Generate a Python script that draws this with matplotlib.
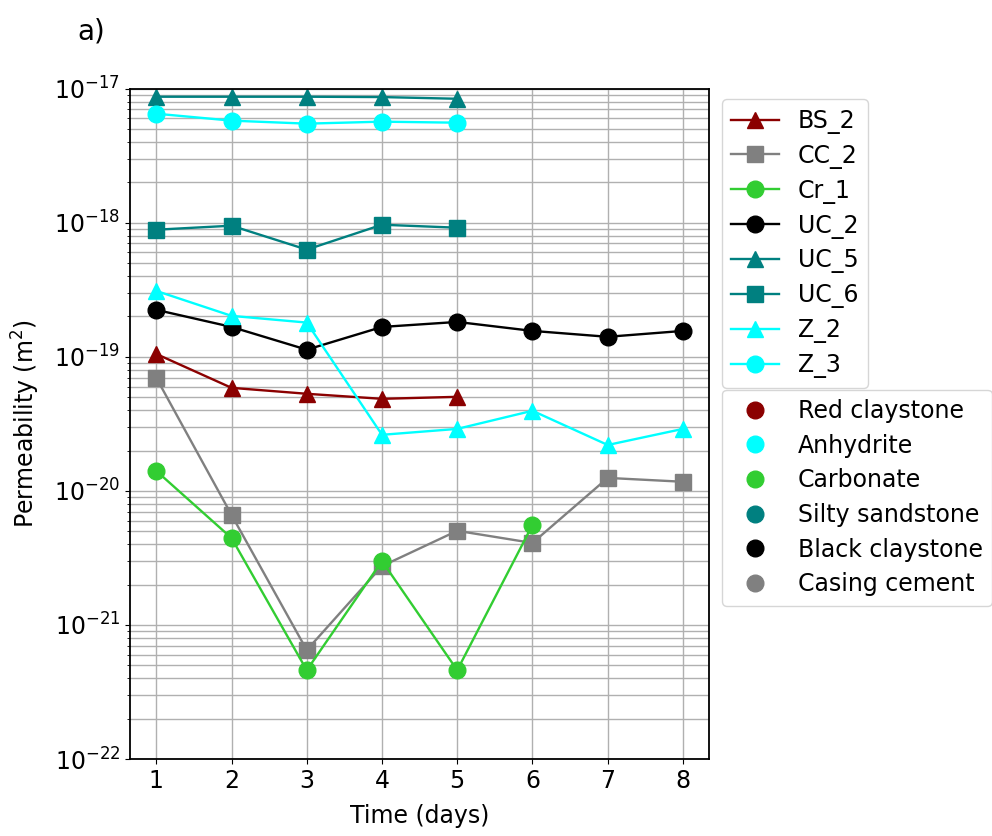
import matplotlib
matplotlib.use("Agg")
import matplotlib.pyplot as plt
from matplotlib.lines import Line2D
from matplotlib.ticker import NullFormatter

days = [1, 2, 3, 4, 5, 6, 7, 8]

BS_2 = [1.05e-19, 5.87e-20, 5.3e-20, 4.86e-20, 5.03e-20]
CC_2 = [6.97e-20, 6.62e-21, 6.5e-22, 2.75e-21, 5.04e-21, 4.09e-21, 1.25e-20, 1.17e-20]
Cr_1 = [1.41e-20, 4.45e-21, 4.6e-22, 3.0e-21, 4.6e-22, 5.57e-21]
UC_2 = [2.24e-19, 1.67e-19, 1.13e-19, 1.67e-19, 1.82e-19, 1.56e-19, 1.41e-19, 1.56e-19]
UC_5 = [8.7e-18, 8.7e-18, 8.7e-18, 8.65e-18, 8.4e-18]
UC_6 = [8.87e-19, 9.5e-19, 6.3e-19, 9.66e-19, 9.18e-19]
Z_2 = [3.1e-19, 2.02e-19, 1.8e-19, 2.62e-20, 2.9e-20, 3.96e-20, 2.2e-20, 2.9e-20]
Z_3 = [6.5e-18, 5.77e-18, 5.48e-18, 5.67e-18, 5.57e-18]

series = [
    ("BS_2", BS_2, "darkred", "^"),
    ("CC_2", CC_2, "gray", "s"),
    ("Cr_1", Cr_1, "limegreen", "o"),
    ("UC_2", UC_2, "black", "o"),
    ("UC_5", UC_5, "teal", "^"),
    ("UC_6", UC_6, "teal", "s"),
    ("Z_2", Z_2, "cyan", "^"),
    ("Z_3", Z_3, "cyan", "o"),
]

rock_types = ["Red claystone", "Anhydrite", "Carbonate", "Silty sandstone",
              "Black claystone", "Casing cement"]
rock_colors = ["darkred", "cyan", "limegreen", "teal", "black", "gray"]

plt.rcParams['font.family'] = ['DejaVu Sans']
plt.rcParams['font.size'] = 17

fig = plt.figure(figsize=(9.92, 8.36), dpi=100)
ax = fig.add_axes([0.131, 0.092, 0.584, 0.802])

handles = []
for name, vals, col, mk in series:
    h, = ax.plot(days[:len(vals)], vals, color=col, marker=mk, markersize=12,
                 linewidth=1.7, label=name)
    handles.append(h)

ax.set_yscale('log')
ax.set_ylim(1e-22, 1e-17)
ax.set_xticks(days)
ax.yaxis.set_minor_formatter(NullFormatter())
ax.grid(True, which='both', axis='y', color='#b0b0b0', linewidth=1.0)
ax.grid(True, which='major', axis='x', color='#b0b0b0', linewidth=1.0)
ax.set_axisbelow(True)
ax.tick_params(labelsize=17)
for sp in ax.spines.values():
    sp.set_linewidth(1.3)
ax.set_xlabel("Time (days)", fontsize=17, labelpad=8)
ax.set_ylabel("Permeability (m$^2$)", fontsize=17, labelpad=9)

leg1 = ax.legend(handles=handles, loc='upper left', bbox_to_anchor=(1.022, 0.984),
                 fontsize=17, borderaxespad=0, handlelength=2.0, labelspacing=0.42)
ax.add_artist(leg1)

rock_handles = [Line2D([], [], linestyle='none', marker='o', markersize=12,
                       color=c, label=r) for r, c in zip(rock_types, rock_colors)]
ax.legend(handles=rock_handles, loc='upper left', bbox_to_anchor=(1.022, 0.551),
          fontsize=17, borderaxespad=0, handlelength=2.0, labelspacing=0.45)

fig.text(0.078, 0.962, "a)", fontsize=20, va='center')

fig.savefig("out.png", dpi=100)
